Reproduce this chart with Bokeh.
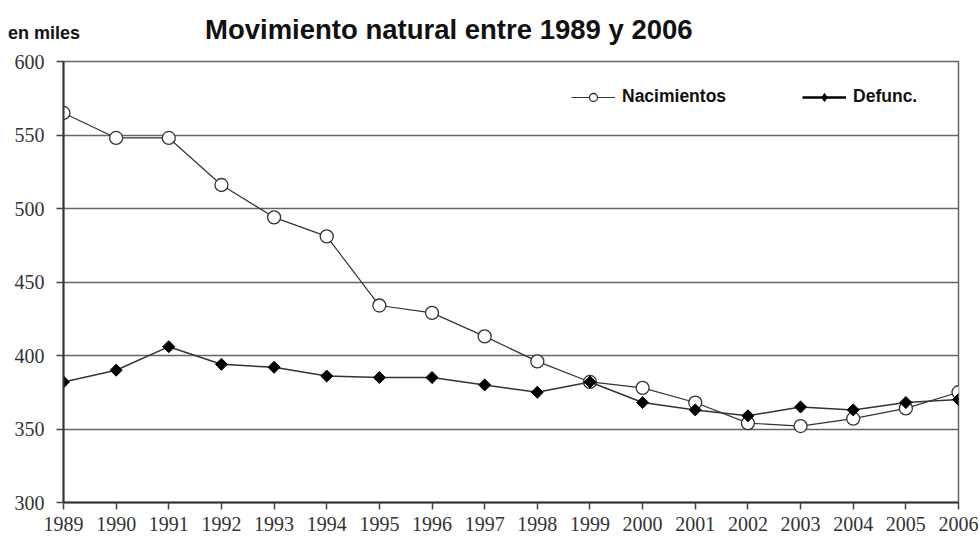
import math
from bokeh.plotting import figure
from bokeh.layouts import column
from bokeh.models import Range1d, Legend, LegendItem, FixedTicker, ColumnDataSource, Div
from bokeh.embed import file_html
from bokeh.resources import INLINE

years = list(range(1989, 2007))
nacimientos = [565, 548, 548, 516, 494, 481, 434, 429, 413, 396, 382, 378, 368, 354, 352, 357, 364, 375]
defunciones = [382, 390, 406, 394, 392, 386, 385, 385, 380, 375, 382, 368, 363, 359, 365, 363, 368, 370]
y_ticks = [300, 350, 400, 450, 500, 550, 600]
title_text = "Movimiento natural entre 1989 y 2006"
unit_text = "en miles"
series_names = ["Nacimientos", "Defunc."]

src = ColumnDataSource(dict(year=years, nac=nacimientos, dfn=defunciones))
nan_src = ColumnDataSource(dict(x=[float("nan")], y=[float("nan")]))

header_h = 45
header = Div(
    text=(
        '<div style="position:relative;width:980px;height:%dpx;'
        'font-family:\'Liberation Sans\';font-weight:bold;color:#111111;">'
        '<span style="position:absolute;left:8px;top:21px;font-size:18px;white-space:nowrap;">%s</span>'
        '<span style="position:absolute;left:205px;top:10px;font-size:27.5px;white-space:nowrap;">%s</span>'
        '</div>' % (header_h, unit_text, title_text)
    ),
    width=980, height=header_h, margin=0,
)

p = figure(width=980, height=539 - header_h, x_range=Range1d(1989, 2006), y_range=Range1d(300, 600),
           output_backend="svg", toolbar_location=None, margin=0,
           min_border_left=63, min_border_right=22, min_border_top=61 - header_h,
           min_border_bottom=37)

for ax, ticks in ((p.xaxis, years), (p.yaxis, y_ticks)):
    ax.ticker = FixedTicker(ticks=ticks)
    ax.major_label_text_font = "Liberation Serif"
    ax.major_label_text_font_size = "20px"
    ax.major_label_text_color = "#333333"
    ax.major_tick_out = 7
    ax.major_tick_in = 0
    ax.minor_tick_line_color = None
    ax.axis_line_color = "#333333"
    ax.axis_line_width = 2
    ax.major_tick_line_color = "#444444"
    ax.major_tick_line_width = 1.5
p.xaxis.major_label_standoff = 7
p.yaxis.major_label_standoff = 12

p.xgrid.visible = False
p.ygrid.grid_line_color = "#666666"
p.ygrid.grid_line_width = 1.3
p.outline_line_color = "#666666"
p.outline_line_width = 1.5
p.background_fill_color = "white"

line_col = "#333333"
l1 = p.line("year", "nac", source=src, line_color=line_col, line_width=1.2)
s1 = p.scatter("year", "nac", source=src, marker="circle", size=13, fill_color="white",
               line_color=line_col, line_width=1.3)
l2 = p.line("year", "dfn", source=src, line_color=line_col, line_width=1.5)
s2 = p.scatter("year", "dfn", source=src, marker="square", angle=math.pi / 4, size=8.5,
               fill_color="black", line_color="black")

# legend-only renderers (no visible data)
ll1 = p.line("x", "y", source=nan_src, line_color=line_col, line_width=1.2)
ls1 = p.scatter("x", "y", source=nan_src, marker="circle", size=10, fill_color="white",
                line_color=line_col, line_width=1.3)
ll2 = p.line("x", "y", source=nan_src, line_color="black", line_width=2.5)
ls2 = p.scatter("x", "y", source=nan_src, marker="diamond", size=12,
                fill_color="black", line_color="black")

legend = Legend(items=[LegendItem(label=series_names[0], renderers=[ll1, ls1]),
                       LegendItem(label=series_names[1], renderers=[ll2, ls2])],
                orientation="horizontal", location=(508, 395),
                glyph_width=44, label_standoff=7, spacing=76, padding=0, margin=0,
                border_line_color=None, background_fill_alpha=0,
                label_text_font="Liberation Sans", label_text_font_size="17.5px",
                label_text_font_style="bold", label_text_color="#111111")
p.add_layout(legend)

layout = column(header, p, spacing=0, margin=0)
open("out.html", "w").write(file_html(layout, INLINE))
